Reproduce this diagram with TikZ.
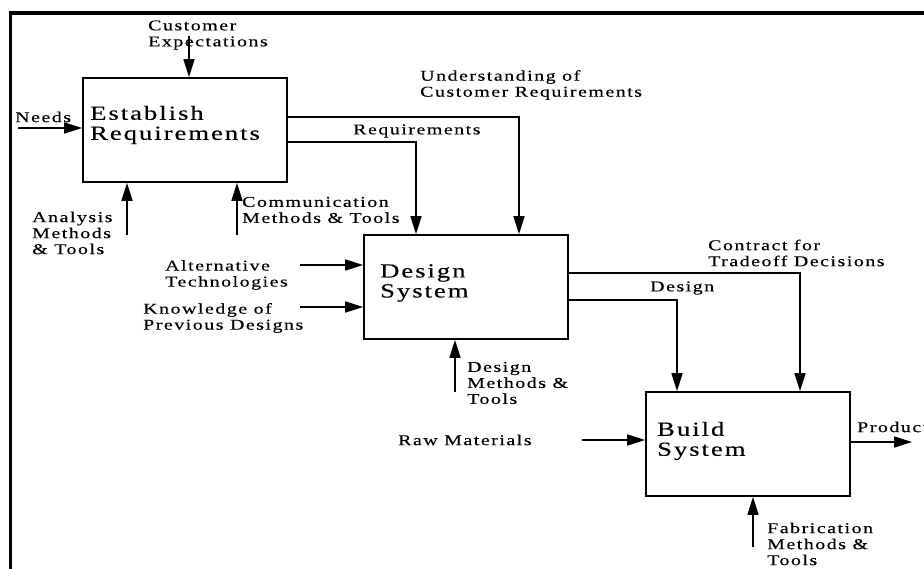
\documentclass[tikz,border=0pt]{standalone}
\usepackage{fontspec}
\setmainfont{Liberation Serif}[FakeStretch=1.33, LetterSpace=10, FakeBold=0.3]
\usetikzlibrary{arrows.meta}

\begin{document}
\begin{tikzpicture}[
    x=1pt, y=-1pt,
    procbox/.style={draw, line width=1.7pt, minimum width=204pt, minimum height=104pt, inner sep=0pt},
    boxtext/.style={anchor=west, inner sep=0pt, align=left, font=\fontsize{20}{20}\selectfont},
    lbl/.style={anchor=west, inner sep=0pt, align=left, font=\fontsize{15}{16}\selectfont},
    flow/.style={line width=1.6pt, -{Triangle[length=18pt, width=11pt]}},
    frameline/.style={line width=3.5pt}
  ]
  \useasboundingbox (0,0) rectangle (924,569);

  % outer frame (top and left edges)
  \draw[frameline] (10.5,569) -- (10.5,13) -- (924,13);

  % activity boxes
  \node[procbox] (er) at (185,130) {};
  \node[procbox] (ds) at (466,287) {};
  \node[procbox] (bs) at (748,444) {};

  \node[boxtext] (er-t) at (90,125) {Establish\\Requirements};
  \node[boxtext] (ds-t) at (380,283) {Design\\System};
  \node[boxtext] (bs-t) at (657,441) {Build\\System};

  % labels
  \node[lbl] (cust)     at (148,35)  {Customer\\Expectations};
  \node[lbl] (needs)    at (15,117)  {Needs};
  \node[lbl] (analysis) at (32,233)  {Analysis\\Methods\\\& Tools};
  \node[lbl] (comm)     at (242,210) {Communication\\Methods \& Tools};
  \node[lbl] (underst)  at (420,85)  {Understanding of\\Customer Requirements};
  \node[lbl] (reqs)     at (353,131) {Requirements};
  \node[lbl] (alt)      at (165,275) {Alternative\\Technologies};
  \node[lbl] (know)     at (143,318) {Knowledge of\\Previous Designs};
  \node[lbl] (dmt)      at (467,383) {Design\\Methods \&\\Tools};
  \node[lbl] (contract) at (708,253) {Contract for\\Tradeoff Decisions};
  \node[lbl] (dsgn)     at (650,288) {Design};
  \node[lbl] (raw)      at (398,440) {Raw Materials};
  \node[lbl] (product)  at (857,427) {Product};
  \node[lbl] (fab)      at (767,544) {Fabrication\\Methods \&\\Tools};

  % free ends of the connectors
  \coordinate (c-cust) at (189,36);
  \coordinate (c-needs) at (18,128);
  \coordinate (c-analysis) at (127,235);
  \coordinate (c-comm) at (237,235);
  \coordinate (c-underst) at (519,117);
  \coordinate (c-reqs) at (416,142);
  \coordinate (c-alt) at (300,265);
  \coordinate (c-know) at (300,307);
  \coordinate (c-dmt) at (455,392);
  \coordinate (c-contract) at (800,273);
  \coordinate (c-dsgn) at (677,300);
  \coordinate (c-raw) at (582,440);
  \coordinate (c-product) at (912,442);
  \coordinate (c-fab) at (753,547);

  % inputs and controls of Establish Requirements
  \draw[flow] (c-cust) -- (c-cust |- er.north);
  \draw[flow] (c-needs) -- (c-needs -| er.west);
  \draw[flow] (c-analysis) -- (c-analysis |- er.south);
  \draw[flow] (c-comm) -- (c-comm |- er.south);

  % outputs of Establish Requirements
  \draw[flow] (er.east |- c-underst) -| (c-underst |- ds.north);
  \draw[flow] (er.east |- c-reqs) -| (c-reqs |- ds.north);

  % inputs and mechanism of Design System
  \draw[flow] (c-alt) -- (c-alt -| ds.west);
  \draw[flow] (c-know) -- (c-know -| ds.west);
  \draw[flow] (c-dmt) -- (c-dmt |- ds.south);

  % outputs of Design System
  \draw[flow] (ds.east |- c-contract) -| (c-contract |- bs.north);
  \draw[flow] (ds.east |- c-dsgn) -| (c-dsgn |- bs.north);

  % Build System
  \draw[flow] (c-raw) -- (c-raw -| bs.west);
  \draw[flow] (bs.east |- c-product) -- (c-product);
  \draw[flow] (c-fab) -- (c-fab |- bs.south);
\end{tikzpicture}
\end{document}
